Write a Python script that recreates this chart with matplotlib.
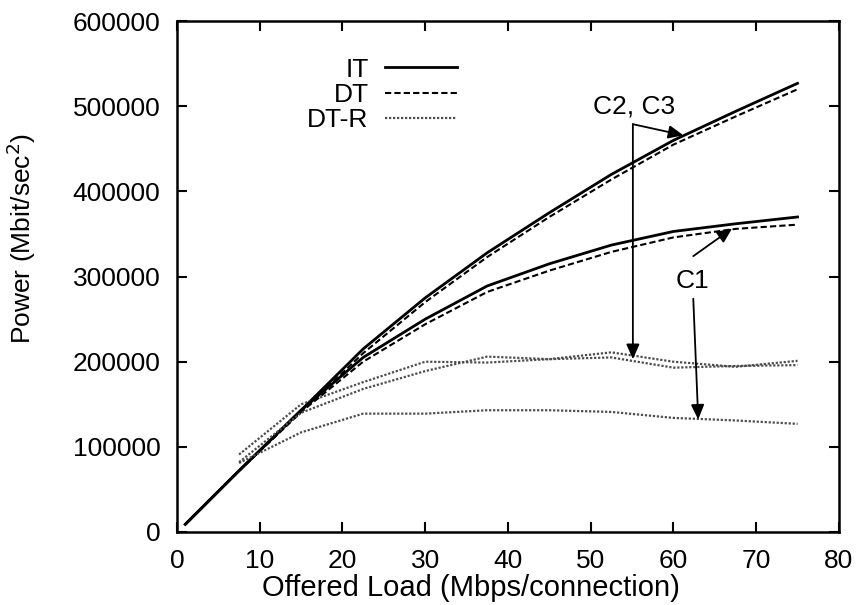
import matplotlib
matplotlib.use('Agg')
import matplotlib.pyplot as plt
import numpy as np

# power vs offered load for IT / DT / DT-R, two traffic cases (C1 and C2,C3)

load = [1, 7.5, 15, 22.5, 30, 37.5, 45, 52.5, 60, 67.5, 75]
load_r = load[1:]

it_c23 = [9000, 72000, 143000, 215000, 275000, 328000, 375000, 420000, 460000, 494000, 527000]
dt_c23 = [9000, 72000, 141000, 210000, 270000, 323000, 370000, 414000, 455000, 488000, 520000]
it_c1 = [9000, 72000, 143000, 205000, 250000, 289000, 315000, 337000, 353000, 362000, 370000]
dt_c1 = [9000, 72000, 141000, 200000, 244000, 282000, 307000, 329000, 346000, 356000, 361000]

dtr_c2 = [91000, 150000, 176000, 200000, 199000, 203000, 205000, 193000, 195000, 196000]
dtr_c3 = [82000, 140000, 168000, 189000, 206000, 203000, 211000, 200000, 194000, 201000]
dtr_c1 = [81000, 117000, 139000, 139000, 143000, 143000, 141000, 134000, 131000, 127000]

plt.rcParams['font.family'] = ['Liberation Sans', 'DejaVu Sans']
fs = 19

fig = plt.figure(figsize=(8.56, 6.05), dpi=100)
ax = fig.add_axes([0.2068, 0.1207, 0.7732, 0.8443])

dot = (0, (1, 0.8))
dash = (0, (3, 1.5))

ax.plot(load, it_c23, color='black', lw=2.0, label='IT')
ax.plot(load, dt_c23, color='black', lw=1.5, linestyle=dash, label='DT')
ax.plot(load_r, dtr_c2, color='0.3', lw=1.6, linestyle=dot, label='DT-R')
ax.plot(load, it_c1, color='black', lw=2.0)
ax.plot(load, dt_c1, color='black', lw=1.5, linestyle=dash)
ax.plot(load_r, dtr_c3, color='0.3', lw=1.6, linestyle=dot)
ax.plot(load_r, dtr_c1, color='0.3', lw=1.6, linestyle=dot)

ax.set_xlim(0, 80)
ax.set_ylim(0, 600000)
ax.set_xticks(np.arange(0, 81, 10))
ax.set_yticks(np.arange(0, 600001, 100000))
ax.tick_params(direction='in', length=7, width=1.5, top=True, right=True, labelsize=fs)
ax.tick_params(axis='x', pad=12)
ax.tick_params(axis='y', pad=12)
for s in ax.spines.values():
    s.set_linewidth(1.8)

ax.set_xlabel('Offered Load (Mbps/connection)', fontsize=21)
ax.set_ylabel('Power (Mbit/sec$^2$)', fontsize=fs)
ax.xaxis.set_label_coords(0.444, -0.082)
ax.yaxis.set_label_coords(-0.21, 0.575)

ax.legend(loc='upper left', bbox_to_anchor=(0.161, 0.975), frameon=False, markerfirst=False,
          fontsize=fs, handlelength=2.75, labelspacing=0.05, handletextpad=0.6)

# case labels with pointer arrows
arw = dict(arrowstyle='-|>,head_length=0.9,head_width=0.4', color='black', lw=1.3,
           shrinkA=0, shrinkB=0, mutation_scale=10)
ax.text(55.3, 500000, 'C2, C3', fontsize=fs, ha='center', va='center')
ax.annotate('', xy=(61.2, 466000), xytext=(55.1, 479000), arrowprops=arw)
ax.annotate('', xy=(55.1, 203000), xytext=(55.1, 479000), arrowprops=arw)

ax.text(62.3, 295000, 'C1', fontsize=fs, ha='center', va='center')
ax.annotate('', xy=(67.1, 356500), xytext=(62.4, 324000), arrowprops=arw)
ax.annotate('', xy=(63.0, 132000), xytext=(62.4, 274000), arrowprops=arw)

fig.savefig('out.png', dpi=100)
